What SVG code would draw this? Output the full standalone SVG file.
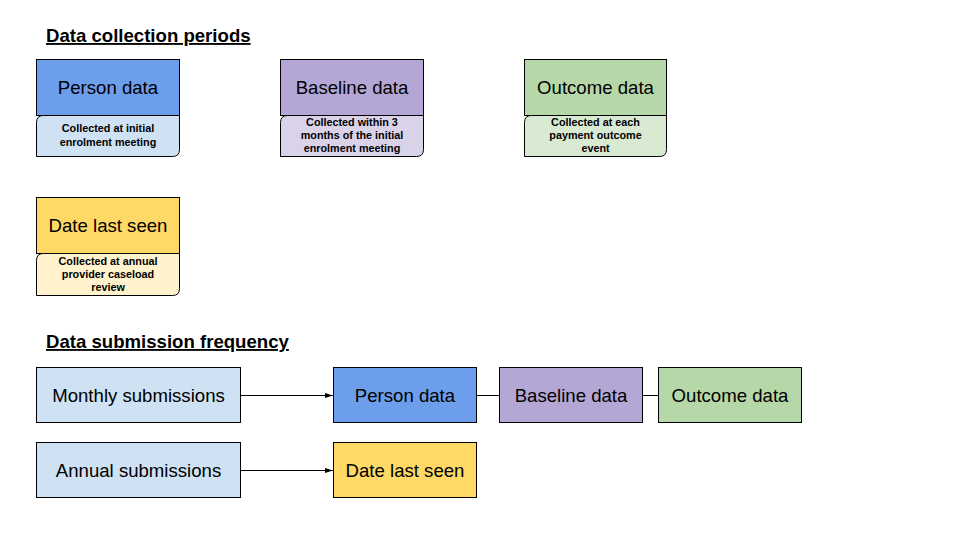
<svg xmlns="http://www.w3.org/2000/svg" width="960" height="540" viewBox="0 0 960 540">
<defs>
<style>
.t{font-family:"Liberation Sans",Arial,sans-serif;font-size:18.6px;fill:#000;text-anchor:middle}
.s{font-family:"Liberation Sans",Arial,sans-serif;font-size:10.8px;font-weight:bold;fill:#000;text-anchor:middle}
.h{font-family:"Liberation Sans",Arial,sans-serif;font-size:18.6px;font-weight:bold;fill:#000;text-decoration:underline}
.b{stroke:#000;stroke-width:1}
.c{stroke:#000;stroke-width:1;fill:none}
</style>
<marker id="arr" markerWidth="8" markerHeight="6" refX="8" refY="3" orient="auto" markerUnits="userSpaceOnUse">
<path d="M0,0.5 L8,3 L0,5.5 Z" fill="#000"/>
</marker>
</defs>
<rect width="960" height="540" fill="#fff"/>
<text class="h" x="46" y="42">Data collection periods</text>
<text class="h" x="46" y="348">Data submission frequency</text>

<g id="person-data">
<rect class="b" x="36.5" y="59.5" width="143" height="56" fill="#6d9eeb"/>
<text class="t" x="108" y="94">Person data</text>
<path class="b" d="M43.5,115.5 H179.5 V149.5 Q179.5,156.5 172.5,156.5 H36.5 V122.5 Q36.5,115.5 43.5,115.5 Z" fill="#cfe2f3"/>
<text class="s" x="108" y="132">Collected at initial</text>
<text class="s" x="108" y="145.5">enrolment meeting</text>
</g>

<g id="baseline-data">
<rect class="b" x="280.5" y="59.5" width="143" height="56" fill="#b4a7d6"/>
<text class="t" x="352" y="94">Baseline data</text>
<path class="b" d="M287.5,115.5 H423.5 V149.5 Q423.5,156.5 416.5,156.5 H280.5 V122.5 Q280.5,115.5 287.5,115.5 Z" fill="#d9d2e9"/>
<text class="s" x="352" y="126">Collected within 3</text>
<text class="s" x="352" y="139">months of the initial</text>
<text class="s" x="352" y="152">enrolment meeting</text>
</g>

<g id="outcome-data">
<rect class="b" x="524.5" y="59.5" width="142" height="56" fill="#b6d7a8"/>
<text class="t" x="595.5" y="94">Outcome data</text>
<path class="b" d="M531.5,115.5 H666.5 V149.5 Q666.5,156.5 659.5,156.5 H524.5 V122.5 Q524.5,115.5 531.5,115.5 Z" fill="#d9ead3"/>
<text class="s" x="595.5" y="126">Collected at each</text>
<text class="s" x="595.5" y="139">payment outcome</text>
<text class="s" x="595.5" y="152">event</text>
</g>

<g id="date-last-seen">
<rect class="b" x="36.5" y="197.5" width="143" height="56" fill="#ffd966"/>
<text class="t" x="108" y="232">Date last seen</text>
<path class="b" d="M43.5,253.5 H179.5 V288.5 Q179.5,295.5 172.5,295.5 H36.5 V260.5 Q36.5,253.5 43.5,253.5 Z" fill="#fff2cc"/>
<text class="s" x="108" y="265">Collected at annual</text>
<text class="s" x="108" y="278">provider caseload</text>
<text class="s" x="108" y="291">review</text>
</g>

<g id="monthly">
<rect class="b" x="36.5" y="367.5" width="204" height="55" fill="#cfe2f3"/>
<text class="t" x="138.5" y="402">Monthly submissions</text>
</g>
<g id="annual">
<rect class="b" x="36.5" y="442.5" width="204" height="55" fill="#cfe2f3"/>
<text class="t" x="138.5" y="477">Annual submissions</text>
</g>
<g id="person-data-2">
<rect class="b" x="333.5" y="367.5" width="143" height="55" fill="#6d9eeb"/>
<text class="t" x="405" y="402">Person data</text>
</g>
<g id="baseline-data-2">
<rect class="b" x="499.5" y="367.5" width="143" height="55" fill="#b4a7d6"/>
<text class="t" x="571" y="402">Baseline data</text>
</g>
<g id="outcome-data-2">
<rect class="b" x="658.5" y="367.5" width="143" height="55" fill="#b6d7a8"/>
<text class="t" x="730" y="402">Outcome data</text>
</g>
<g id="date-last-seen-2">
<rect class="b" x="333.5" y="442.5" width="143" height="55" fill="#ffd966"/>
<text class="t" x="405" y="477">Date last seen</text>
</g>

<g id="connectors">
<line class="c" x1="241" y1="395.5" x2="333" y2="395.5" marker-end="url(#arr)"/>
<line class="c" x1="477" y1="395.5" x2="499" y2="395.5"/>
<line class="c" x1="643" y1="395.5" x2="658" y2="395.5"/>
<line class="c" x1="241" y1="470.5" x2="333" y2="470.5" marker-end="url(#arr)"/>
</g>
</svg>
